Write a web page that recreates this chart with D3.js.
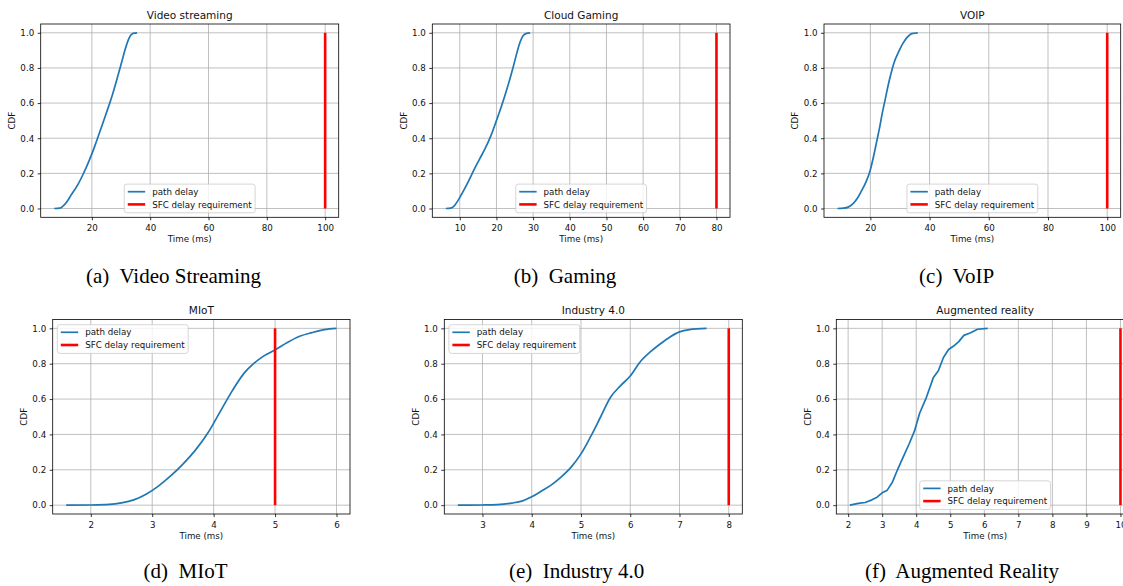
<!DOCTYPE html>
<html>
<head>
<meta charset="utf-8">
<style>
  body { margin: 0; background: #fff; }
  svg { display: block; }
  text { font-family: "DejaVu Sans", sans-serif; fill: #111; }
  .caption { font-family: "Liberation Serif", "Times New Roman", serif; font-size: 21px; white-space: pre; fill: #000; }
</style>
</head>
<body>
<svg id="fig" width="1123" height="586"></svg>
<script src="https://d3js.org/d3.v7.min.js"></script>
<script>
// values
const titles = ["Video streaming", "Cloud Gaming", "VOIP", "MIoT", "Industry 4.0", "Augmented reality"];
const captions = ["(a)  Video Streaming", "(b)  Gaming", "(c)  VoIP", "(d)  MIoT", "(e)  Industry 4.0", "(f)  Augmented Reality"];
const legendLabels = ["path delay", "SFC delay requirement"];
const requirement = [100, 80, 100, 5, 8, 10];

const videoDelay = [7.1, 9.0, 10.0, 11.5, 13.0, 15.0, 17.0, 19.0, 21.0, 23.0, 25.0, 27.0, 29.0, 30.5, 31.5, 32.5, 33.5, 34.5, 35.5];
const videoCdf   = [0, 0.002, 0.012, 0.04, 0.08, 0.13, 0.195, 0.27, 0.355, 0.45, 0.545, 0.645, 0.76, 0.85, 0.91, 0.96, 0.99, 0.998, 1.0];

const gamingDelay = [6.2, 7.5, 8.5, 9.5, 11, 12.5, 14, 15.5, 17, 18.5, 20, 21.5, 23, 24.5, 25.5, 26.5, 27.3, 28.2, 29.2];
const gamingCdf   = [0, 0.002, 0.015, 0.045, 0.1, 0.16, 0.225, 0.285, 0.345, 0.415, 0.5, 0.59, 0.69, 0.8, 0.88, 0.95, 0.985, 0.997, 1.0];

const voipDelay = [8.9, 11, 12.5, 14, 15.5, 17, 18.5, 20, 21, 22, 23, 24, 25, 26, 27, 28, 29.5, 31, 32.5, 34, 36];
const voipCdf   = [0, 0.002, 0.008, 0.025, 0.055, 0.1, 0.15, 0.22, 0.29, 0.37, 0.45, 0.54, 0.62, 0.7, 0.77, 0.83, 0.89, 0.94, 0.975, 0.995, 1.0];

const miotDelay = [1.6, 2.0, 2.3, 2.5, 2.7, 2.9, 3.1, 3.3, 3.5, 3.7, 3.9, 4.1, 4.3, 4.5, 4.65, 4.8, 5.0, 5.2, 5.4, 5.6, 5.8, 6.0];
const miotCdf   = [0, 0.001, 0.004, 0.013, 0.03, 0.062, 0.108, 0.165, 0.232, 0.31, 0.405, 0.525, 0.645, 0.748, 0.8, 0.84, 0.878, 0.92, 0.955, 0.976, 0.993, 1.0];

const industryDelay = [2.5, 3.0, 3.3, 3.6, 3.8, 4.0, 4.2, 4.4, 4.6, 4.8, 5.0, 5.2, 5.4, 5.6, 5.8, 6.0, 6.2, 6.4, 6.6, 6.8, 7.0, 7.2, 7.55];
const industryCdf   = [0, 0.001, 0.003, 0.012, 0.023, 0.047, 0.08, 0.115, 0.16, 0.215, 0.29, 0.39, 0.5, 0.61, 0.675, 0.73, 0.81, 0.865, 0.91, 0.95, 0.98, 0.993, 1.0];

const arDelay = [2.05, 2.3, 2.5, 2.7, 2.85, 3.0, 3.15, 3.3, 3.45, 3.6, 3.8, 3.95, 4.1, 4.3, 4.5, 4.65, 4.8, 4.95, 5.1, 5.25, 5.4, 5.6, 5.8, 6.1];
const arCdf   = [0, 0.01, 0.015, 0.03, 0.045, 0.07, 0.085, 0.13, 0.2, 0.265, 0.35, 0.42, 0.52, 0.61, 0.72, 0.76, 0.835, 0.88, 0.9, 0.925, 0.96, 0.975, 0.995, 1.0];

const xTicks = [
  [20, 40, 60, 80, 100],
  [10, 20, 30, 40, 50, 60, 70, 80],
  [20, 40, 60, 80, 100],
  [2, 3, 4, 5, 6],
  [3, 4, 5, 6, 7, 8],
  [2, 3, 4, 5, 6, 7, 8, 9, 10]
];
const cdfTicks = [0, 0.2, 0.4, 0.6, 0.8, 1.0];

const delays = [videoDelay, gamingDelay, voipDelay, miotDelay, industryDelay, arDelay];
const cdfs = [videoCdf, gamingCdf, voipCdf, miotCdf, industryCdf, arCdf];

// layout
const boxes = [
  {left: 40.7,  right: 338.7,  top: 24,    bottom: 217.3},
  {left: 432.3, right: 730,    top: 24,    bottom: 217.3},
  {left: 824,   right: 1120.7, top: 24,    bottom: 217.3},
  {left: 52.7,  right: 350,    top: 319.5, bottom: 514},
  {left: 444.3, right: 742.3,  top: 319.5, bottom: 514},
  {left: 836.3, right: 1134,   top: 319.5, bottom: 514}
];
const legendPos = ["lower", "lower", "lower", "upper", "upper", "lower"];
const capPos = [[173.5, 282.5], [565, 282.5], [956.6, 282.5], [185.5, 577.5], [576.6, 577.5], [962, 577.5]];

const fs = 8.7;
const blue = "#1f77b4", red = "#ff0000";
const svg = d3.select("#fig");

titles.forEach((title, i) => {
  const b = boxes[i];
  const pts = delays[i].map((d, k) => [d, cdfs[i][k]]);
  const g = svg.append("g");

  const lo = d3.min(delays[i]), hi = d3.max([...delays[i], requirement[i]]);
  const pad = (hi - lo) * 0.05;
  const x = d3.scaleLinear().domain([lo - pad, hi + pad]).range([b.left, b.right]);
  const y = d3.scaleLinear().domain([-0.05, 1.05]).range([b.bottom, b.top]);

  // grid
  g.append("g").selectAll("line").data(xTicks[i]).join("line")
    .attr("x1", d => x(d)).attr("x2", d => x(d))
    .attr("y1", b.top).attr("y2", b.bottom)
    .attr("stroke", "#b0b0b0").attr("stroke-width", 0.8);
  g.append("g").selectAll("line").data(cdfTicks).join("line")
    .attr("y1", d => y(d)).attr("y2", d => y(d))
    .attr("x1", b.left).attr("x2", b.right)
    .attr("stroke", "#b0b0b0").attr("stroke-width", 0.8);

  // curves
  const line = d3.line().x(d => x(d[0])).y(d => y(d[1]));
  g.append("path").datum(pts)
    .attr("d", line.curve(i < 5 ? d3.curveMonotoneX : d3.curveLinear))
    .attr("fill", "none").attr("stroke", blue).attr("stroke-width", 1.7)
    .attr("stroke-linejoin", "round");
  g.append("path").datum([[requirement[i], 0], [requirement[i], 1]])
    .attr("d", d3.line().x(d => x(d[0])).y(d => y(d[1])))
    .attr("fill", "none").attr("stroke", red).attr("stroke-width", 2.6);

  // frame
  g.append("rect").attr("x", b.left).attr("y", b.top)
    .attr("width", b.right - b.left).attr("height", b.bottom - b.top)
    .attr("fill", "none").attr("stroke", "#000").attr("stroke-width", 0.8);

  // axes
  const xa = g.append("g").attr("transform", `translate(0,${b.bottom})`)
    .call(d3.axisBottom(x).tickValues(xTicks[i]).tickSize(3).tickPadding(4.8).tickFormat(d3.format("d")));
  const ya = g.append("g").attr("transform", `translate(${b.left},0)`)
    .call(d3.axisLeft(y).tickValues(cdfTicks).tickSize(3).tickPadding(3.5).tickFormat(d3.format(".1f")));
  [xa, ya].forEach(a => {
    a.select(".domain").remove();
    a.attr("font-family", null).attr("font-size", fs);
    a.selectAll("line").attr("stroke", "#000").attr("stroke-width", 0.8);
  });

  // labels
  const mx = (b.left + b.right) / 2, my = (b.top + b.bottom) / 2;
  g.append("text").attr("x", mx).attr("y", b.top - 5.2)
    .attr("text-anchor", "middle").attr("font-size", 10.5).text(title);
  g.append("text").attr("x", mx).attr("y", b.bottom + 25)
    .attr("text-anchor", "middle").attr("font-size", fs).text("Time (ms)");
  g.append("text").attr("transform", `translate(${b.left - 25.8},${my}) rotate(-90)`)
    .attr("text-anchor", "middle").attr("font-size", fs).text("CDF");

  // legend
  const lg = g.append("g");
  const frame = lg.append("rect");
  const texts = lg.selectAll("text").data(legendLabels).join("text")
    .attr("font-size", fs).text(d => d);
  const tw = d3.max(texts.nodes(), n => n.getComputedTextLength());
  const lw = 3.5 + 17.4 + 7 + tw + 3.5, lh = 28.7;
  const lx = legendPos[i] === "lower" ? mx - lw / 2 : b.left + 4.6;
  const ly = legendPos[i] === "lower" ? b.bottom - 4.5 - lh : b.top + 5.2;
  frame.attr("x", lx).attr("y", ly).attr("width", lw).attr("height", lh)
    .attr("rx", 2.5).attr("fill", "#fff").attr("fill-opacity", 0.8)
    .attr("stroke", "#cccccc").attr("stroke-width", 0.8);
  const rowY = k => ly + 7.6 + k * 12.7;
  texts.attr("x", lx + 3.5 + 17.4 + 7).attr("y", (d, k) => rowY(k) + 3.1);
  lg.selectAll("line").data(legendLabels).join("line")
    .attr("x1", lx + 3.5).attr("x2", lx + 3.5 + 17.4)
    .attr("y1", (d, k) => rowY(k)).attr("y2", (d, k) => rowY(k))
    .attr("stroke", (d, k) => k === 0 ? blue : red)
    .attr("stroke-width", (d, k) => k === 0 ? 1.7 : 2.6);

  // caption
  svg.append("text").attr("class", "caption")
    .attr("x", capPos[i][0]).attr("y", capPos[i][1])
    .attr("text-anchor", "middle").text(captions[i]);
});
</script>
</body>
</html>
